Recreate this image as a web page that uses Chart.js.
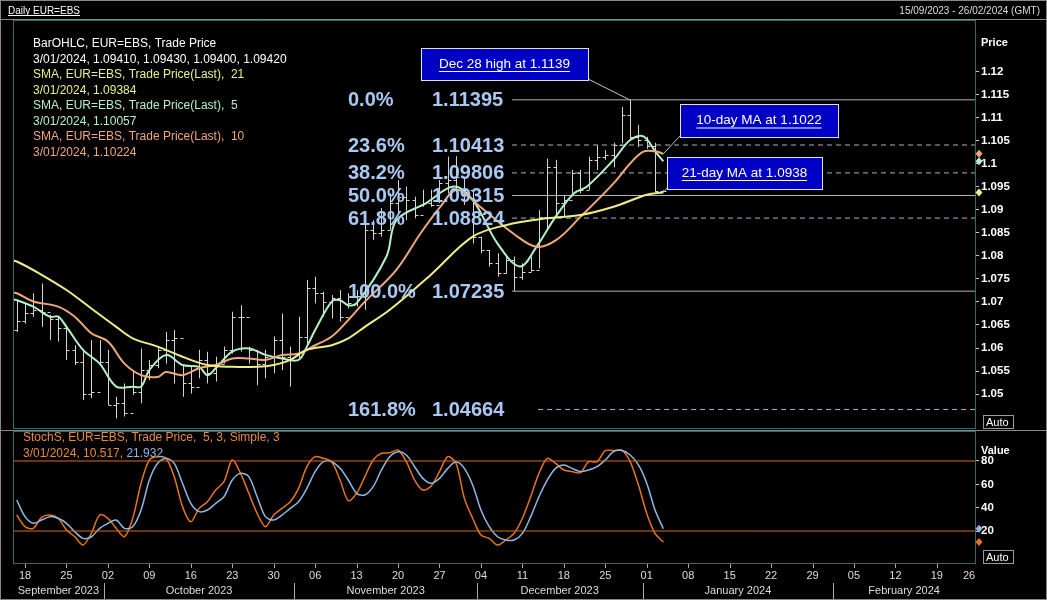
<!DOCTYPE html>
<html><head><meta charset="utf-8">
<script src="https://cdn.jsdelivr.net/npm/chart.js@4"></script>
<style>html,body{margin:0;padding:0;background:#000;overflow:hidden}canvas{position:absolute;left:0;top:0}</style>
</head><body>
<canvas id="c1" width="1047" height="600"></canvas>
<canvas id="c2" width="1047" height="600"></canvas>
<script>
// ---- DATA (trading-day index 0 = 15/09/2023) ----
const highs=[1.0704,1.0697,1.0719,1.0740,1.0672,1.0668,1.0646,1.0606,1.0596,1.0617,1.0617,1.0596,1.0494,1.0523,1.0552,1.0599,1.0574,1.0603,1.0635,1.0639,1.0563,1.0563,1.0596,1.0592,1.0581,1.0603,1.0679,1.0693,1.0603,1.0596,1.0596,1.0625,1.0675,1.0603,1.0668,1.0748,1.0755,1.0722,1.0715,1.0726,1.0719,1.0726,1.0871,1.0878,1.0904,1.0936,1.0965,1.0951,1.0929,1.0944,1.0944,1.0965,1.1016,1.1017,1.0972,1.0944,1.0842,1.0813,1.0806,1.0799,1.0799,1.0784,1.0799,1.0900,1.1012,1.1009,1.0933,1.0987,1.0987,1.1016,1.1041,1.1030,1.1046,1.1124,1.1139,1.1085,1.1059,1.1046,1.0943];
const lows=[1.0635,1.0653,1.0668,1.0646,1.0617,1.0614,1.0574,1.0563,1.0487,1.0491,1.0563,1.0476,1.0447,1.0451,1.0498,1.0480,1.0530,1.0556,1.0566,1.0523,1.0494,1.0501,1.0534,1.0523,1.0527,1.0566,1.0588,1.0592,1.0566,1.0519,1.0534,1.0545,1.0552,1.0516,1.0577,1.0603,1.0697,1.0668,1.0664,1.0657,1.0686,1.0690,1.0683,1.0835,1.0842,1.0857,1.0893,1.0878,1.0882,1.0907,1.0907,1.0915,1.0936,1.0944,1.0911,1.0827,1.0806,1.0777,1.0755,1.0762,1.0724,1.0748,1.0766,1.0773,1.0857,1.0885,1.0885,1.0936,1.0936,1.0944,1.0987,1.1009,1.0993,1.1045,1.1055,1.1037,1.1033,1.0939,1.0940];
const closes=[1.0659,1.0675,1.0682,1.0679,1.0664,1.0643,1.0596,1.0570,1.0501,1.0505,1.0570,1.0476,1.0480,1.0458,1.0505,1.0552,1.0563,1.0596,1.0617,1.0621,1.0523,1.0516,1.0574,1.0545,1.0566,1.0596,1.0668,1.0668,1.0596,1.0566,1.0581,1.0617,1.0581,1.0588,1.0625,1.0730,1.0719,1.0701,1.0708,1.0668,1.0697,1.0712,1.0857,1.0849,1.0857,1.0915,1.0929,1.0922,1.0889,1.0915,1.0911,1.0958,1.0965,1.0972,1.0944,1.0842,1.0813,1.0784,1.0762,1.0791,1.0755,1.0766,1.0770,1.0885,1.0994,1.0915,1.0922,1.0980,1.0944,1.1009,1.1016,1.1020,1.1041,1.1107,1.1059,1.1052,1.1040,1.0941,1.0942];
const opens=[1.0640,1.0659,1.0675,1.0682,1.0679,1.0664,1.0643,1.0596,1.0570,1.0501,1.0505,1.0570,1.0476,1.0480,1.0458,1.0505,1.0552,1.0563,1.0596,1.0617,1.0621,1.0523,1.0516,1.0574,1.0545,1.0566,1.0596,1.0668,1.0668,1.0596,1.0566,1.0581,1.0617,1.0581,1.0588,1.0625,1.0730,1.0719,1.0701,1.0708,1.0668,1.0697,1.0712,1.0857,1.0849,1.0857,1.0915,1.0929,1.0922,1.0889,1.0915,1.0911,1.0958,1.0965,1.0972,1.0944,1.0842,1.0813,1.0784,1.0762,1.0791,1.0755,1.0766,1.0770,1.0885,1.0994,1.0915,1.0922,1.0980,1.0944,1.1009,1.1016,1.1020,1.1041,1.1107,1.1059,1.1052,1.1040,1.0941];
const sma21Idx=[-1,0,3,6,9,12,14,17,20,23,26,29,31,33,35,38,40,42,45,50,55,59,64,68,72,76,78];
const sma21Val=[1.0791,1.0788,1.0759,1.0726,1.0686,1.0646,1.0621,1.0603,1.0581,1.0563,1.0559,1.0559,1.0563,1.0574,1.0596,1.0606,1.0621,1.0646,1.0683,1.0760,1.0842,1.0867,1.0882,1.0889,1.0907,1.0933,1.0938];
const sma10Idx=[-1,0,2,5,7,9,11,13,15,17,18,20,22,24,26,28,30,32,34,36,38,40,41.8,45.8,48.7,51.1,53.1,55.9,59.9,62.7,65.1,68,72,74,75.6,77.2,78];
const sma10Val=[1.0722,1.0719,1.0701,1.0690,1.0668,1.0632,1.0614,1.0566,1.0541,1.0537,1.0548,1.0541,1.0556,1.0563,1.0577,1.0577,1.0574,1.0585,1.0588,1.0606,1.0625,1.0661,1.0697,1.0770,1.0849,1.0907,1.0944,1.0907,1.0849,1.0820,1.0835,1.0885,1.0958,1.1001,1.1027,1.1027,1.1022];
const sma5Idx=[-1,0,2,4,5,6,8,10,12,14,15,16,18,20,22,23,24,26,28,30,32,34,35,36,38,39,40,41,44.6,45.8,49.4,52.7,55,58,60.7,62.7,65,67.2,68.8,72,74,75.6,77.2,78];
const sma5Val=[1.0708,1.0704,1.0690,1.0668,1.0668,1.0646,1.0596,1.0566,1.0516,1.0516,1.0516,1.0552,1.0585,1.0563,1.0559,1.0541,1.0556,1.0592,1.0599,1.0585,1.0577,1.0574,1.0603,1.0639,1.0701,1.0704,1.0693,1.0697,1.0799,1.0878,1.0915,1.0951,1.0922,1.0827,1.0777,1.0820,1.0885,1.0936,1.0951,1.1009,1.1052,1.1060,1.1023,1.1006];
const stochK=[33.7,23.7,22.3,31.7,33.7,30.9,20.9,15.1,8.0,18.0,33.7,30.9,22.3,15.1,30.9,60.9,80.9,83.7,82.3,66.6,40.9,28.0,39.4,45.1,55.1,62.3,80.9,69.4,52.3,35.1,23.7,33.7,39.4,45.1,56.6,75.1,83.7,82.3,79.4,63.7,46.0,52.3,66.6,80.9,86.6,87.0,89.4,79.4,63.7,55.1,58.6,70.9,83.7,78.0,48.0,30.9,16.6,13.7,8.0,12.3,18.0,30.9,49.4,69.4,82.3,78.0,72.3,70.9,70.0,79.4,79.4,88.9,88.9,89.4,79.4,59.4,35.1,18.0,10.5];
const stochD=[46.6,32.3,26.6,29.4,32.3,30.9,26.6,19.4,13.7,15.1,22.3,26.6,29.4,22.3,23.7,38.0,63.7,78.0,82.3,78.0,60.9,43.7,36.6,38.0,43.7,49.4,63.7,69.4,66.6,49.4,32.3,29.4,33.7,39.4,45.1,56.6,70.9,79.4,79.4,73.7,63.7,52.3,50.9,58.0,72.3,83.7,88.0,85.1,75.1,65.1,60.9,65.1,73.7,79.4,73.7,59.4,38.0,23.7,15.1,12.3,12.3,18.0,32.3,49.4,63.7,73.7,76.6,73.7,70.9,72.3,75.1,80.9,88.0,88.9,85.1,76.6,60.9,38.0,21.9];
const fibPct=["0.0%","23.6%","38.2%","50.0%","61.8%","100.0%","161.8%"];
const fibVal=[1.11395,1.10413,1.09806,1.09315,1.08824,1.07235,1.04664];
const fibDashed=[false,true,true,false,true,false,true];
const priceTicks=[1.05,1.055,1.06,1.065,1.07,1.075,1.08,1.085,1.09,1.095,1.1,1.105,1.11,1.115,1.12];
const stochTicks=[20,40,60,80];
const weekIdx=[1,6,11,16,21,26,31,36,41,46,51,56,61,66,71,76,81,86,91,96,101,106,111,116];
const weekLbl=["18","25","02","09","16","23","30","06","13","20","27","04","11","18","25","01","08","15","22","29","05","12","19","26"];
const monthLbl=["September 2023","October 2023","November 2023","December 2023","January 2024","February 2024"];
const monthSep=[10.5,33.5,55.5,75.5,98.5];
const notes=[{text:"Dec 28 high at 1.1139",x:74,y:1.1139},{text:"10-day MA at 1.1022",x:78,y:1.1022},{text:"21-day MA at 1.0938",x:78,y:1.0938}];

const XMIN=-0.45, XMAX=115.6, TEAL='#2c6c6c';
const pts=(ix,v)=>ix.map((x,i)=>({x:x,y:v[i]}));
const idx=closes.map((_,i)=>i);
const F='"Liberation Sans", Arial, sans-serif';

function frame(ctx,a){ctx.save();ctx.strokeStyle=TEAL;ctx.lineWidth=1;ctx.strokeRect(a.left+0.5,a.top+0.5,a.right-a.left,a.bottom-a.top);ctx.restore();}
function autoBox(ctx,x,y){ctx.save();ctx.fillStyle='#000';ctx.fillRect(x,y,30,13);ctx.strokeStyle='#9a9a9a';ctx.strokeRect(x+0.5,y+0.5,30,13);ctx.fillStyle='#fff';ctx.font='11px '+F;ctx.textBaseline='middle';ctx.fillText('Auto',x+3,y+7.5);ctx.restore();}
function diamond(ctx,x,y,c){ctx.save();ctx.fillStyle=c;ctx.beginPath();ctx.moveTo(x,y-4);ctx.lineTo(x+3.5,y);ctx.lineTo(x,y+4);ctx.lineTo(x-3.5,y);ctx.closePath();ctx.fill();ctx.restore();}

const pricePlugin={id:'pp',
 beforeDatasetsDraw(ch){const c=ch.ctx,x=ch.scales.x,y=ch.scales.y,a=ch.chartArea;
  c.save();c.beginPath();c.rect(a.left,a.top,a.right-a.left,a.bottom-a.top);c.clip();
  c.strokeStyle='#d4d4d4';c.lineWidth=1;
  idx.forEach(i=>{const px=Math.round(x.getPixelForValue(i))+0.5;c.beginPath();
   c.moveTo(px,y.getPixelForValue(highs[i]));c.lineTo(px,y.getPixelForValue(lows[i]));
   const po=Math.round(y.getPixelForValue(opens[i]))+0.5,pc=Math.round(y.getPixelForValue(closes[i]))+0.5;
   c.moveTo(px-3,po);c.lineTo(px,po);c.moveTo(px,pc);c.lineTo(px+3,pc);c.stroke();});
  c.restore();},
 afterDraw(ch){const c=ch.ctx,x=ch.scales.x,y=ch.scales.y,a=ch.chartArea;
  frame(c,a);
  c.save();
  c.fillStyle='#000';c.fillRect(0,0,1047,19);
  c.strokeStyle='#888';c.beginPath();c.moveTo(0,19.5);c.lineTo(1047,19.5);c.stroke();
  c.strokeRect(0.5,0.5,1046,599);
  c.font='10px '+F;c.fillStyle='#fff';c.textBaseline='alphabetic';c.fillText('Daily EUR=EBS',8,14);
  c.fillRect(8,15,c.measureText('Daily EUR=EBS').width,1);
  c.fillStyle='#ddd';c.textAlign='right';c.fillText('15/09/2023 - 26/02/2024 (GMT)',1040,14);
  c.textAlign='left';
  c.font='12px '+F;
  const leg=[['BarOHLC, EUR=EBS, Trade Price','#ffffff'],['3/01/2024, 1.09410, 1.09430, 1.09400, 1.09420','#ffffff'],['SMA, EUR=EBS, Trade Price(Last),  21','#eeee88'],['3/01/2024, 1.09384','#eeee88'],['SMA, EUR=EBS, Trade Price(Last),  5','#b4f0c8'],['3/01/2024, 1.10057','#b4f0c8'],['SMA, EUR=EBS, Trade Price(Last),  10','#f0a878'],['3/01/2024, 1.10224','#f0a878']];
  leg.forEach((l,i)=>{c.fillStyle=l[1];c.fillText(l[0],33,47+i*15.5);});
  c.font='bold 20px '+F;c.fillStyle='#a9c9f2';c.textBaseline='middle';
  fibVal.forEach((v,i)=>{const py=y.getPixelForValue(v);c.fillText(fibPct[i],348,py+1);c.fillText(v.toFixed(5),432,py+1);});
  const boxes=[[421,48,167,32,588,79],[680,104,158,33,680,136],[667,157,155,32,667,188]];
  notes.forEach((n,i)=>{const b=boxes[i];const tx=x.getPixelForValue(n.x),ty=y.getPixelForValue(n.y);
   c.strokeStyle='#c8c8c8';c.lineWidth=1;c.beginPath();c.moveTo(b[4],b[5]);c.lineTo(tx,ty);c.stroke();
   c.fillStyle='#0000c4';c.fillRect(b[0],b[1],b[2],b[3]);c.strokeStyle='#e0e0ff';c.strokeRect(b[0]+0.5,b[1]+0.5,b[2],b[3]);
   c.font='13.5px '+F;c.fillStyle='#fff';c.textAlign='center';c.textBaseline='middle';
   const cx=b[0]+b[2]/2,cy=b[1]+b[3]/2;c.fillText(n.text,cx,cy);const w=c.measureText(n.text).width;c.fillRect(cx-w/2,cy+7,w,1);c.textAlign='left';});
  c.font='bold 11px '+F;c.fillStyle='#fff';c.textBaseline='middle';c.fillText('Price',981,43);
  diamond(c,979,y.getPixelForValue(sma10Val[sma10Val.length-1]),'#f0a878');
  diamond(c,979,y.getPixelForValue(sma5Val[sma5Val.length-1]),'#b4f0c8');
  diamond(c,979,y.getPixelForValue(sma21Val[sma21Val.length-1]),'#eeee88');
  autoBox(c,983,415);
  c.restore();}
};

new Chart(document.getElementById('c1'),{type:'line',
 data:{datasets:[
  {data:pts(sma21Idx,sma21Val),borderColor:'#eeee88',borderWidth:2,pointRadius:0,tension:0.35},
  {data:pts(sma10Idx,sma10Val),borderColor:'#f0a878',borderWidth:2,pointRadius:0,tension:0.35},
  {data:pts(sma5Idx,sma5Val),borderColor:'#b4f0c8',borderWidth:2,pointRadius:0,tension:0.35},
  ...fibVal.map((v,i)=>({data:[{x:i==6?62.9:59.75,y:v},{x:XMAX,y:v}],borderColor:'#b0b0c0',borderWidth:1,borderDash:fibDashed[i]?[5,4]:[],pointRadius:0}))
 ]},
 options:{responsive:false,devicePixelRatio:1,animation:false,events:[],
  layout:{padding:{left:13,top:20,bottom:172,right:0}},
  plugins:{legend:{display:false},tooltip:{enabled:false}},
  scales:{x:{type:'linear',min:XMIN,max:XMAX,display:false},
   y:{position:'right',min:1.04261,max:1.1313,afterFit(s){s.width=72;},
    afterBuildTicks(s){s.ticks=priceTicks.map(v=>({value:v}));},
    ticks:{color:'#fff',font:{family:'Liberation Sans',size:11.5,weight:'bold'},padding:2,callback:v=>String(Number(v.toFixed(3)))},
    grid:{drawOnChartArea:false,color:'#ccc',tickLength:4},border:{color:TEAL}}}},
 plugins:[pricePlugin]});

const stochPlugin={id:'sp',
 afterDraw(ch){const c=ch.ctx,x=ch.scales.x,y=ch.scales.y,a=ch.chartArea;
  frame(c,a);c.save();
  c.strokeStyle='#888';c.beginPath();c.moveTo(0,430.5);c.lineTo(1047,430.5);c.stroke();
  c.font='12px '+F;c.textBaseline='alphabetic';c.fillStyle='#e88a3c';
  c.fillText('StochS, EUR=EBS, Trade Price,  5, 3, Simple, 3',23,441);
  const s='3/01/2024, 10.517, ';c.fillText(s,23,457);c.fillStyle='#8fb8e2';c.fillText('21.932',23+c.measureText(s).width,457);
  c.font='bold 11px '+F;c.fillStyle='#fff';c.textBaseline='middle';c.fillText('Value',981,451);
  diamond(c,979,y.getPixelForValue(stochD[stochD.length-1]),'#8fb8e2');
  diamond(c,979,y.getPixelForValue(stochK[stochK.length-1]),'#e8741c');
  autoBox(c,983,550);
  c.strokeStyle='#aaa';c.fillStyle='#ddd';c.font='11px '+F;c.textAlign='center';
  weekIdx.forEach((w,i)=>{let px=x.getPixelForValue(w);if(px<=a.right){c.beginPath();c.moveTo(Math.round(px)+0.5,564);c.lineTo(Math.round(px)+0.5,568);c.stroke();}
   c.fillText(weekLbl[i],Math.min(px,969),576);});
  const bnd=[XMIN,...monthSep,XMAX];
  monthLbl.forEach((m,i)=>{const px=(x.getPixelForValue(bnd[i])+x.getPixelForValue(bnd[i+1]))/2;c.fillText(m,px,591);});
  monthSep.forEach(s2=>{const px=Math.round(x.getPixelForValue(s2))+0.5;c.beginPath();c.moveTo(px,583);c.lineTo(px,599);c.stroke();});
  c.restore();}
};

new Chart(document.getElementById('c2'),{type:'line',
 data:{datasets:[
  {data:[{x:XMIN,y:80},{x:XMAX,y:80}],borderColor:'#e0681a',borderWidth:1,pointRadius:0},
  {data:[{x:XMIN,y:20},{x:XMAX,y:20}],borderColor:'#e0681a',borderWidth:1,pointRadius:0},
  {data:pts(idx,stochD),borderColor:'#8fb8e2',borderWidth:1.5,pointRadius:0,tension:0.3},
  {data:pts(idx,stochK),borderColor:'#e8741c',borderWidth:1.5,pointRadius:0,tension:0.3}
 ]},
 options:{responsive:false,devicePixelRatio:1,animation:false,events:[],
  layout:{padding:{left:13,top:431,bottom:37,right:0}},
  plugins:{legend:{display:false},tooltip:{enabled:false}},
  scales:{x:{type:'linear',min:XMIN,max:XMAX,display:false},
   y:{position:'right',min:-7.4,max:105.7,afterFit(s){s.width=72;},
    afterBuildTicks(s){s.ticks=stochTicks.map(v=>({value:v}));},
    ticks:{color:'#fff',font:{family:'Liberation Sans',size:11.5,weight:'bold'},padding:2},
    grid:{drawOnChartArea:false,color:'#ccc',tickLength:4},border:{color:TEAL}}}},
 plugins:[stochPlugin]});
</script>
</body></html>
